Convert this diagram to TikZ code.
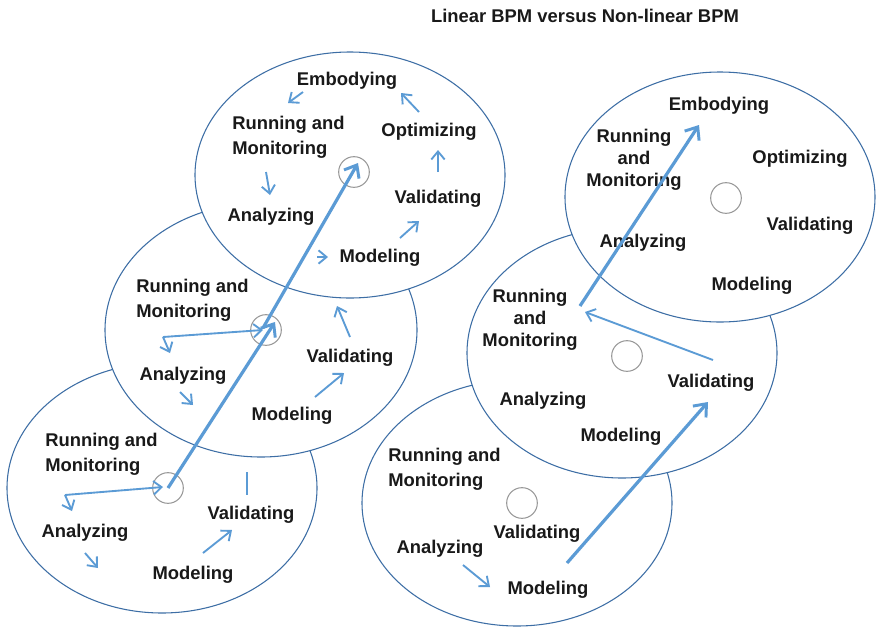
\documentclass[tikz,border=0pt]{standalone}
\usepackage{fontspec}
\setmainfont{Liberation Sans}
\usetikzlibrary{arrows.meta}
\definecolor{rim}{RGB}{61,110,165}
\definecolor{flow}{RGB}{91,155,213}
\definecolor{ink}{RGB}{25,25,25}
\begin{document}
\begin{tikzpicture}
  [x=0.75pt,y=-0.75pt,
   bubble/.style={draw=rim,line width=0.8pt,fill=white},
   hub/.style={circle,draw=black!40,line width=0.8pt,minimum size=23pt,inner sep=0pt},
   lbl/.style={text=ink,font=\fontsize{13.8}{18.8}\selectfont\bfseries,inner sep=0pt,text height=10pt,text depth=3pt,yshift=-1.5pt},
   lbl3/.style={lbl,align=center,font=\fontsize{13.8}{16.5}\selectfont\bfseries,text height=,text depth=},
   lblw/.style={lbl,align=left,anchor=west,text height=,text depth=},
   thin/.style={flow,line width=1.4pt,-{Straight Barb[length=6pt,width=10pt,line width=1.4pt]}},
   thick/.style={flow,line width=2.4pt,-{Straight Barb[length=8pt,width=13pt,line width=2.2pt]}}]
  \useasboundingbox (0,0) rectangle (876,629);

  \draw[bubble] (162,488) ellipse [x radius=155,y radius=125];
  \draw[bubble] (261,330) ellipse [x radius=156,y radius=127];
  \draw[bubble] (350,175) ellipse [x radius=155,y radius=123];
  \draw[bubble] (517,503) ellipse [x radius=155,y radius=123];
  \draw[bubble] (622,353) ellipse [x radius=155,y radius=125];
  \draw[bubble] (720,197) ellipse [x radius=155,y radius=125];

  \node[hub] (c1) at (168,488) {};
  \node[hub] (c2) at (266,330) {};
  \node[hub] (c3) at (354,172) {};
  \node[hub] (c4) at (522,503) {};
  \node[hub] (c5) at (627,356) {};
  \node[hub] (c6) at (726,198) {};

  \node[lbl] (title) at (585,16) {Linear BPM versus Non-linear BPM};

  \node[lblw] (l1run) at (45,452) {Running and\\Monitoring};
  \node[lbl] (l1ana) at (85,531) {Analyzing};
  \node[lbl] (l1mod) at (193,573) {Modeling};
  \node[lbl] (l1val) at (251,513) {Validating};

  \node[lblw] (l2run) at (136,298) {Running and\\Monitoring};
  \node[lbl] (l2ana) at (183,374) {Analyzing};
  \node[lbl] (l2mod) at (292,414) {Modeling};
  \node[lbl] (l2val) at (350,356) {Validating};

  \node[lbl] (l3emb) at (347,79) {Embodying};
  \node[lblw] (l3run) at (232,135) {Running and\\Monitoring};
  \node[lbl] (l3opt) at (429,130) {Optimizing};
  \node[lbl] (l3val) at (438,197) {Validating};
  \node[lbl] (l3ana) at (271,215) {Analyzing};
  \node[lbl] (l3mod) at (380,256) {Modeling};

  \node[lblw] (r1run) at (388,467) {Running and\\Monitoring};
  \node[lbl] (r1val) at (537,532) {Validating};
  \node[lbl] (r1ana) at (440,547) {Analyzing};
  \node[lbl] (r1mod) at (548,588) {Modeling};

  \node[lbl3] (r2run) at (530,318) {Running\\and\\Monitoring};
  \node[lbl] (r2ana) at (543,399) {Analyzing};
  \node[lbl] (r2mod) at (621,435) {Modeling};
  \node[lbl] (r2val) at (711,381) {Validating};

  \node[lbl] (r3emb) at (719,104) {Embodying};
  \node[lbl3] (r3run) at (634,158) {Running\\and\\Monitoring};
  \node[lbl] (r3opt) at (800,157) {Optimizing};
  \node[lbl] (r3val) at (810,224) {Validating};
  \node[lbl] (r3ana) at (643,241) {Analyzing};
  \node[lbl] (r3mod) at (752,284) {Modeling};

  \coordinate (k1) at (65,495);   \coordinate (t1) at (163,487);
  \coordinate (d1) at (72,511);
  \coordinate (a1) at (85,553);   \coordinate (b1) at (98,568);
  \coordinate (m1) at (203,553);  \coordinate (v1) at (232,530);
  \coordinate (p1) at (247,472);  \coordinate (q1) at (247,495);

  \coordinate (k2) at (163,337);  \coordinate (t2) at (263,330);
  \coordinate (d2) at (170,353);
  \coordinate (a2) at (180,392);  \coordinate (b2) at (193,405);
  \coordinate (m2) at (315,397);  \coordinate (v2) at (344,373);
  \coordinate (p2) at (350,337);  \coordinate (q2) at (337,306);

  \coordinate (e3) at (303,92);   \coordinate (f3) at (288,103);
  \coordinate (o3) at (419,112);  \coordinate (g3) at (401,93);
  \coordinate (p3) at (438,172);  \coordinate (q3) at (438,150);
  \coordinate (m3) at (400,238);  \coordinate (v3) at (419,221);
  \coordinate (k3) at (266,172);  \coordinate (d3) at (270,195);
  \coordinate (a3) at (317,257);  \coordinate (b3) at (328,257);

  \coordinate (a4) at (463,565);  \coordinate (b4) at (490,587);
  \coordinate (s4) at (567,563);  \coordinate (u4) at (708,402);
  \coordinate (v5) at (713,360);  \coordinate (w5) at (585,312);
  \coordinate (s5) at (580,306);  \coordinate (u5) at (699,125);

  \coordinate (j1) at (275,322);  \coordinate (s2) at (263,328);
  \coordinate (j2) at (358,163);

  \foreach \from/\to in {k1/t1,k1/d1,a1/b1,m1/v1,k2/t2,k2/d2,a2/b2,m2/v2,p2/q2,
    e3/f3,o3/g3,p3/q3,m3/v3,k3/d3,a3/b3,a4/b4,v5/w5}
    \draw[thin] (\from) -- (\to);
  \draw[flow,line width=1.4pt] (p1) -- (q1);
  \foreach \from/\to in {c1/j1,s2/j2,s4/u4,s5/u5}
    \draw[thick] (\from.center) -- (\to);
\end{tikzpicture}
\end{document}
